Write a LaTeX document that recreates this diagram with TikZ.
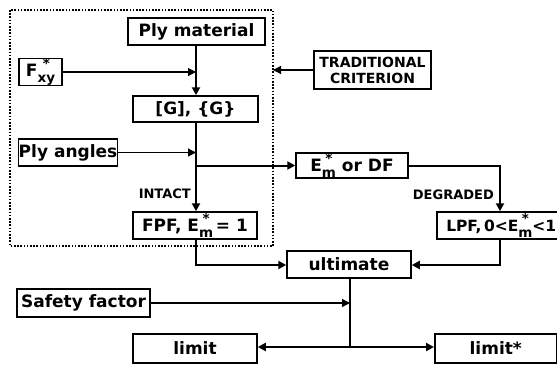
\documentclass[tikz,border=0pt]{standalone}
\usepackage{fontspec}
\setmainfont{DejaVu Sans}
\usetikzlibrary{arrows.meta}
\newcommand\mysubsup[2]{{\fontsize{13.5}{13.5}\selectfont\setbox0\hbox{#2}\setbox2\hbox{#1}\rlap{\hbox to \wd0{\hss\raisebox{0.62em}{\box2}\hss}}\raisebox{-0.42em}{\box0}}}
\begin{document}
\begin{tikzpicture}[x=1pt,y=-1pt,
  box/.style={draw,line width=1.5pt,inner sep=0pt,font=\fontsize{17}{19}\selectfont\bfseries},
  lbl/.style={inner sep=0pt,font=\fontsize{13}{14}\selectfont\bfseries,anchor=east},
  main/.style={line width=2pt},
  thin/.style={line width=1.2pt},
  >={Triangle[length=8pt,width=8pt]}]
\useasboundingbox (0,0) rectangle (557,365);
\draw[line width=1.6pt,dash pattern=on 1.6pt off 1.6pt] (10,10) rectangle (273,246);
\node[box,minimum width=137pt,minimum height=27pt] (ply) at (196.5,31.5) {Ply material};
\node[box,minimum width=43pt,minimum height=19pt] (fxy) at (40.5,72) {F\mysubsup{*}{xy}};
\node[box,minimum width=125pt,minimum height=26pt] (g) at (195.5,109) {[G], \{G\}};
\node[box,minimum width=98pt,minimum height=27pt] (ang) at (68,152.5) {Ply angles};
\node[box,minimum width=117pt,minimum height=38pt,align=center,font=\fontsize{14}{16}\selectfont\bfseries] (trad) at (372.5,70) {TRADITIONAL\\CRITERION};
\node[box,minimum width=112pt,minimum height=25pt] (em) at (352,165.5) {E\mysubsup{*}{m} or DF};
\node[box,minimum width=124pt,minimum height=27pt] (fpf) at (195,225.5) {FPF, E\mysubsup{*}{m}\,= 1};
\node[box,minimum width=124pt,minimum height=27pt,anchor=west] (lpf) at (436,225.5) {\fontsize{15.5}{18}\selectfont\hspace{5pt}LPF,\,0<E\mysubsup{*}{m}<1};
\node[box,minimum width=124pt,minimum height=27pt] (ult) at (349,264.5) {ultimate};
\node[box,minimum width=133pt,minimum height=28pt] (saf) at (83.5,303) {Safety factor};
\node[box,minimum width=124pt,minimum height=29pt] (lim) at (195,348.5) {limit};
\node[box,minimum width=122pt,minimum height=29pt,anchor=west] (lims) at (434,348.5) {limit*};
\node[lbl] (intact) at (191,194) {INTACT};
\node[lbl] (degr) at (494,195) {DEGRADED};
\coordinate (j1) at (196,72);
\coordinate (j2) at (196,152.5);
\coordinate (j3) at (196,165.5);
\coordinate (tb) at (273,70);
\coordinate (c1) at (500,165.5);
\coordinate (c2) at (196,265);
\coordinate (c3) at (500,265);
\coordinate (c4) at (350,303);
\coordinate (c5) at (350,347);
\draw[main,->] (ply.south -| j1) -- (g.north -| j1);
\draw[thin,->] (fxy.east) -- (j1);
\draw[thin,->] (trad.west) -- (tb);
\draw[main,->] (g.south -| j1) -- (fpf.north -| j1);
\draw[thin,->] (ang.east) -- (j2);
\draw[main,->] (j3) -- (em.west);
\draw[main,->] (em.east) -- (c1) -- (lpf.north -| c1);
\draw[main,->] (fpf.south -| c2) -- (c2) -- (ult.west |- c2);
\draw[main,->] (lpf.south -| c3) -- (c3) -- (ult.east |- c3);
\draw[main] (ult.south -| c5) -- (c5);
\draw[thin,->] (saf.east) -- (c4);
\draw[main,->] (c5) -- (lim.east |- c5);
\draw[main,->] (c5) -- (lims.west |- c5);
\end{tikzpicture}
\end{document}
